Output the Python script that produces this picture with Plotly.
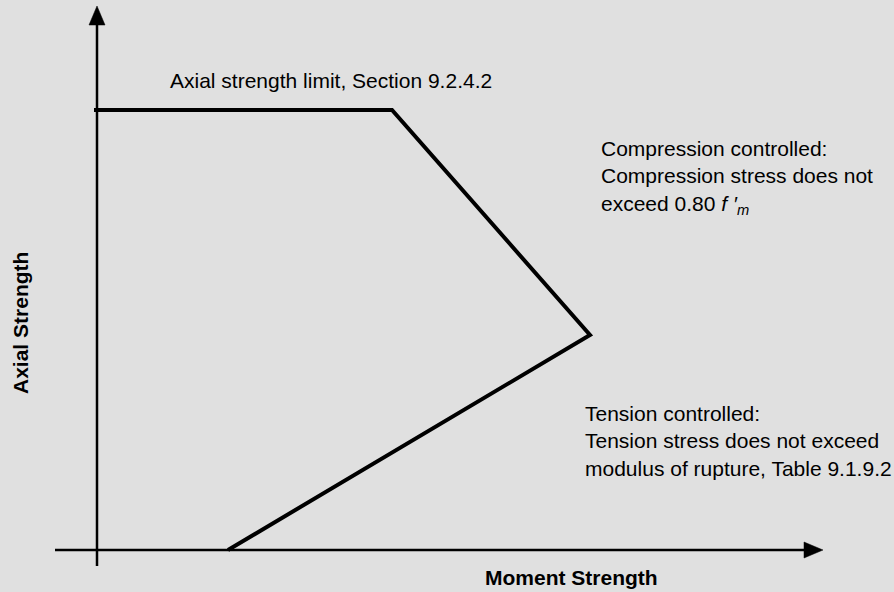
import plotly.graph_objects as go

# Interaction diagram outline (moment vs. axial strength, arbitrary units)
moment = [-3, 295, 493, 131]
axial = [440, 440, 215, 0]

# Axis extents and arrowheads
x_axis_start, x_axis_end, x_arrow_tip = -42, 711, 726
y_axis_start, y_axis_end, y_arrow_tip = -16, 529, 544
arrow_half = 8

# Annotation text
limit_label = "Axial strength limit, Section 9.2.4.2"
compression_label = ("Compression controlled:<br>Compression stress does not<br>"
                     "exceed 0.80 <i>f ′<sub>m</sub></i>")
tension_label = ("Tension controlled:<br>Tension stress does not exceed<br>"
                 "modulus of rupture, Table 9.1.9.2")
x_title = "Moment Strength"
y_title = "Axial Strength"

FONT = "Liberation Sans, Arial, sans-serif"
INK = "#000000"
BG = "#e0e0e0"

fig = go.Figure()

# Horizontal axis line and arrowhead
fig.add_trace(go.Scatter(x=[x_axis_start, x_axis_end], y=[0, 0], mode="lines",
                         line=dict(color=INK, width=2.5), hoverinfo="skip"))
fig.add_trace(go.Scatter(x=[x_axis_end - 4, x_arrow_tip, x_axis_end - 4, x_axis_end - 4],
                         y=[arrow_half, 0, -arrow_half, arrow_half],
                         mode="lines", fill="toself", fillcolor=INK,
                         line=dict(color=INK, width=0.5), hoverinfo="skip"))

# Vertical axis line and arrowhead
fig.add_trace(go.Scatter(x=[0, 0], y=[y_axis_start, y_axis_end], mode="lines",
                         line=dict(color=INK, width=2.5), hoverinfo="skip"))
fig.add_trace(go.Scatter(x=[-arrow_half, 0, arrow_half, -arrow_half],
                         y=[y_axis_end - 4, y_arrow_tip, y_axis_end - 4, y_axis_end - 4],
                         mode="lines", fill="toself", fillcolor=INK,
                         line=dict(color=INK, width=0.5), hoverinfo="skip"))

# Strength envelope
fig.add_trace(go.Scatter(x=moment, y=axial, mode="lines",
                         line=dict(color=INK, width=4), hoverinfo="skip"))

fig.add_annotation(x=71, y=470, text=limit_label, showarrow=False,
                   xanchor="left", yanchor="middle", align="left",
                   font=dict(family=FONT, size=21, color=INK))
fig.add_annotation(x=502, y=373, text=compression_label, showarrow=False,
                   xanchor="left", yanchor="middle", align="left",
                   font=dict(family=FONT, size=21, color=INK))
fig.add_annotation(x=486, y=109, text=tension_label, showarrow=False,
                   xanchor="left", yanchor="middle", align="left",
                   font=dict(family=FONT, size=21, color=INK))
fig.add_annotation(x=386, y=-27, text="<b>" + x_title + "</b>", showarrow=False,
                   xanchor="left", yanchor="middle",
                   font=dict(family=FONT, size=21, color=INK))
fig.add_annotation(x=-77, y=227, text="<b>" + y_title + "</b>", showarrow=False,
                   textangle=-90, xanchor="center", yanchor="middle",
                   font=dict(family=FONT, size=21, color=INK))

fig.update_layout(
    width=894, height=592,
    margin=dict(l=0, r=0, t=0, b=0),
    paper_bgcolor=BG, plot_bgcolor=BG,
    showlegend=False,
    xaxis=dict(range=[-97, 797], visible=False, fixedrange=True),
    yaxis=dict(range=[-42, 550], visible=False, fixedrange=True),
)

fig.write_html("out.html")
